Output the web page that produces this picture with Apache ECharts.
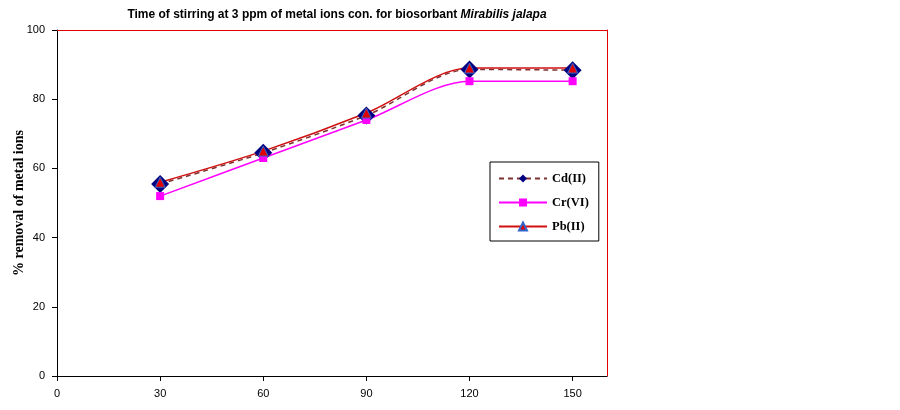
<!DOCTYPE html>
<html>
<head>
<meta charset="utf-8">
<script src="https://cdn.jsdelivr.net/npm/echarts@6/dist/echarts.min.js"></script>
<style>
  html, body { margin: 0; padding: 0; background: #fff; }
  #chart { width: 900px; height: 410px; }
</style>
</head>
<body>
<div id="chart"></div>
<script>
// stirring time (min)
const times = [30, 60, 90, 120, 150];
const xTicks = [0, 30, 60, 90, 120, 150];
// % removal of metal ions
const cdValues = [55.5, 64.5, 75.3, 88.6, 88.4];
const crValues = [52, 63, 74, 85.2, 85.2];
const pbValues = [56, 65, 76, 89, 89];

const toPairs = vals => times.map((t, i) => [t, vals[i]]);

const chart = echarts.init(document.getElementById('chart'));

// red frame on top and right, drawn as extra bare axes
const frameAxis = {
  type: 'value',
  min: 0,
  axisLine: { show: true, onZero: false, lineStyle: { color: '#e00000' } },
  axisTick: { show: false },
  axisLabel: { show: false },
  splitLine: { show: false }
};

const option = {
  animation: false,
  title: {
    text: '{n|Time of stirring at 3 ppm of metal ions con. for biosorbant }{i|Mirabilis jalapa}',
    left: 332,
    textAlign: 'center',
    top: 4,
    textStyle: {
      rich: {
        n: { fontFamily: 'Arial, Liberation Sans', fontWeight: 'bold', fontSize: 12, color: '#000' },
        i: { fontFamily: 'Arial, Liberation Sans', fontWeight: 'bold', fontStyle: 'italic', fontSize: 12, color: '#000' }
      }
    }
  },
  grid: {
    left: 57,
    right: 293,
    top: 30,
    bottom: 34,
    outerBoundsMode: 'none'
  },
  legend: {
    orient: 'vertical',
    left: 490,
    top: 162,
    itemWidth: 48,
    itemHeight: 10,
    itemGap: 11,
    padding: [10, 10, 8, 8],
    borderColor: '#000',
    borderWidth: 1,
    textStyle: { fontFamily: 'Times New Roman, Liberation Serif', fontWeight: 'bold', fontSize: 12.5, color: '#000' },
    data: ['Cd(II)', 'Cr(VI)', 'Pb(II)']
  },
  xAxis: [
    {
      type: 'value',
      min: 0,
      max: 160,
      interval: 30,
      splitLine: { show: false },
      axisLine: { onZero: false, lineStyle: { color: '#000' } },
      axisTick: { length: 5, lineStyle: { color: '#000' }, customValues: xTicks },
      axisLabel: {
        margin: 12,
        fontFamily: 'Arial, Liberation Sans',
        fontSize: 11,
        color: '#000',
        customValues: xTicks
      }
    },
    Object.assign({}, frameAxis, { position: 'top', max: 160 })
  ],
  yAxis: [
    {
      type: 'value',
      min: 0,
      max: 100,
      interval: 20,
      name: '% removal of metal ions',
      nameLocation: 'middle',
      nameGap: 31,
      nameMoveOverlap: false,
      nameTextStyle: { fontFamily: 'Times New Roman, Liberation Serif', fontWeight: 'bold', fontSize: 14, color: '#000' },
      splitLine: { show: false },
      axisLine: { show: true, onZero: false, lineStyle: { color: '#000' } },
      axisTick: { show: true, inside: false, length: 5, lineStyle: { color: '#000' } },
      axisLabel: { margin: 12, fontFamily: 'Arial, Liberation Sans', fontSize: 11, color: '#000' }
    },
    Object.assign({}, frameAxis, { position: 'right', max: 100 })
  ],
  series: [
    {
      name: 'Cd(II)',
      type: 'line',
      smooth: 0.3,
      data: toPairs(cdValues),
      symbol: 'diamond',
      symbolSize: 18,
      itemStyle: { color: '#000080' },
      lineStyle: { color: '#7f3030', width: 1.5, type: [5, 4] }
    },
    {
      name: 'Cr(VI)',
      type: 'line',
      smooth: 0.3,
      data: toPairs(crValues),
      symbol: 'rect',
      symbolSize: 8,
      itemStyle: { color: '#ff00ff' },
      lineStyle: { color: '#ff00ff', width: 1.5 }
    },
    {
      name: 'Pb(II)',
      type: 'line',
      smooth: 0.3,
      data: toPairs(pbValues),
      symbol: 'triangle',
      symbolSize: 10,
      itemStyle: { color: '#e00000', borderColor: '#3366cc', borderWidth: 1 },
      lineStyle: { color: '#d01010', width: 1.5 }
    }
  ]
};

chart.setOption(option);
</script>
</body>
</html>
